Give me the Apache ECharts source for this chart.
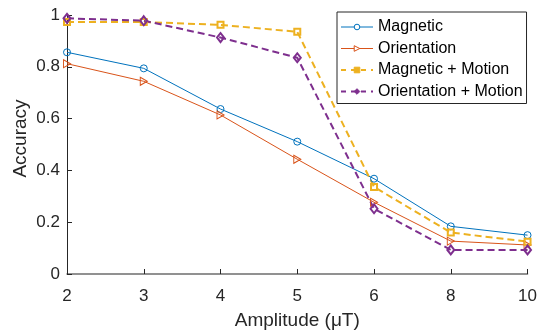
<!DOCTYPE html>
<html>
<head>
<meta charset="utf-8">
<script src="https://cdn.jsdelivr.net/npm/echarts@6/dist/echarts.min.js"></script>
<style>
  html, body { margin: 0; padding: 0; background: #fff; }
  #chart { width: 540px; height: 335px; }
</style>
</head>
<body>
<div id="chart"></div>
<script>
// Amplitude categories (µT) and accuracy per method
const amplitudes = ['2', '3', '4', '5', '6', '8', '10'];
const magnetic = [0.856, 0.794, 0.637, 0.511, 0.368, 0.184, 0.150];
const orientation = [0.812, 0.744, 0.614, 0.443, 0.277, 0.127, 0.112];
const magneticMotion = [0.973, 0.973, 0.962, 0.935, 0.336, 0.160, 0.125];
const orientationMotion = [0.987, 0.978, 0.913, 0.835, 0.252, 0.093, 0.093];
const yTicks = [0, 0.2, 0.4, 0.6, 0.8, 1];

const FONT = '"Liberation Sans", Arial, Helvetica, sans-serif';
const INK = '#262626';
const C = ['#0072BD', '#D95319', '#EDB120', '#7E2F8E'];
const triRight = 'path://M0,0L17,10L0,20Z';

function lineSeries(name, data, color, opts) {
  return {
    name: name,
    type: 'line',
    data: data,
    showAllSymbol: true,
    animation: false,
    lineStyle: { color: color, width: opts.dashed ? 2 : 1, type: opts.dashed ? [7, 4] : 'solid' },
    itemStyle: { color: opts.fill || 'rgba(255,255,255,0)', borderColor: color, borderWidth: opts.bw || 1 },
    symbol: opts.symbol,
    symbolSize: opts.size,
    emphasis: { disabled: true }
  };
}

const chart = echarts.init(document.getElementById('chart'), null, { renderer: 'canvas' });
chart.setOption({
  backgroundColor: '#fff',
  textStyle: { fontFamily: FONT },
  grid: { left: 67, right: 12, top: 15, bottom: 58, containLabel: false },
  xAxis: {
    type: 'category',
    data: amplitudes,
    boundaryGap: false,
    name: 'Amplitude (\u03BCT)',
    nameLocation: 'middle',
    nameGap: 37,
    nameTextStyle: { fontFamily: FONT, fontSize: 19, color: INK, verticalAlign: 'top' },
    axisLine: { lineStyle: { color: '#6e6e6e', width: 1.5 } },
    axisTick: { inside: true, length: 5, lineStyle: { color: INK } },
    axisLabel: { fontFamily: FONT, fontSize: 17, color: INK, margin: 14 },
    splitLine: { show: false }
  },
  yAxis: {
    type: 'value',
    min: 0,
    max: 1,
    interval: 0.2,
    axisLine: { show: true, lineStyle: { color: INK, width: 1 } },
    axisTick: { show: true, inside: true, length: 5, lineStyle: { color: INK } },
    axisLabel: {
      fontFamily: FONT, fontSize: 17, color: INK, margin: 7,
      formatter: v => {
        const t = yTicks.find(x => Math.abs(x - v) < 1e-9);
        return t === undefined ? '' : String(t);
      }
    },
    splitLine: { show: false }
  },
  legend: {
    orient: 'vertical',
    left: 337,
    top: 12,
    padding: [7, 4, 4, 3],
    itemWidth: 32,
    itemHeight: 7,
    itemGap: 5.5,
    borderColor: INK,
    borderWidth: 1,
    backgroundColor: '#fff',
    textStyle: { fontFamily: FONT, fontSize: 16, color: '#000', lineHeight: 16 },
    data: [
      { name: 'Magnetic', itemStyle: { color: '#fff', borderColor: C[0], borderWidth: 1 }, lineStyle: { width: 1 } },
      { name: 'Orientation', itemStyle: { color: '#fff', borderColor: C[1], borderWidth: 1 }, lineStyle: { width: 1 } },
      { name: 'Magnetic + Motion', itemStyle: { color: C[2], borderColor: C[2], borderWidth: 1 }, lineStyle: { width: 2, type: [5, 5] } },
      { name: 'Orientation + Motion', itemStyle: { color: C[3], borderColor: C[3], borderWidth: 1 }, lineStyle: { width: 2, type: [5, 5] } }
    ]
  },
  graphic: [{
    type: 'text',
    x: 20.5,
    y: 138.5,
    rotation: Math.PI / 2,
    style: { text: 'Accuracy', font: '19px ' + FONT, fill: INK, align: 'center', verticalAlign: 'middle' }
  }],
  series: [
    lineSeries('Magnetic', magnetic, C[0], { symbol: 'circle', size: 7 }),
    lineSeries('Orientation', orientation, C[1], { symbol: triRight, size: [7, 8] }),
    lineSeries('Magnetic + Motion', magneticMotion, C[2], { symbol: 'rect', size: 6, dashed: true, bw: 2 }),
    lineSeries('Orientation + Motion', orientationMotion, C[3], { symbol: 'diamond', size: [7, 9], dashed: true, bw: 2 })
  ]
});
</script>
</body>
</html>
